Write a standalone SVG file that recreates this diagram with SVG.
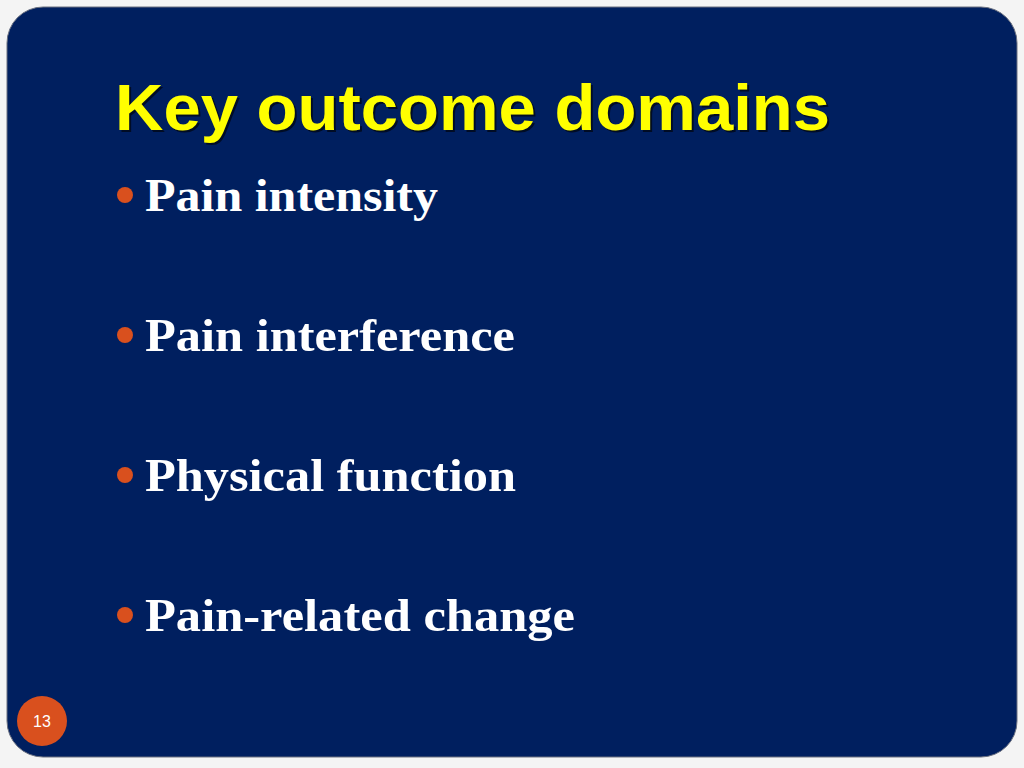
<svg xmlns="http://www.w3.org/2000/svg" width="1024" height="768" viewBox="0 0 1024 768">
<style>
.t{font-family:"Liberation Sans",Arial,sans-serif;font-size:64px;font-weight:bold}
.b{font-family:"Liberation Serif","Times New Roman",serif;font-size:46px;font-weight:bold;fill:#ffffff}
.d{fill:#d9501e}
</style>
<rect width="1024" height="768" fill="#f4f4f4"/>
<rect x="7" y="7" width="1010" height="750" rx="36" fill="#001f5f" stroke="#6a7080" stroke-width="1"/>
<g id="title"><text class="t" x="117" y="132" fill="#000" opacity="0.6" textLength="715" lengthAdjust="spacingAndGlyphs">Key outcome domains</text><text class="t" x="115" y="130" fill="#ffff00" textLength="715" lengthAdjust="spacingAndGlyphs">Key outcome domains</text></g>
<g id="b1"><circle class="d" cx="125" cy="195" r="8"/><text class="b" x="145" y="211" textLength="293" lengthAdjust="spacingAndGlyphs">Pain intensity</text></g>
<g id="b2"><circle class="d" cx="125" cy="335" r="8"/><text class="b" x="145" y="351" textLength="370" lengthAdjust="spacingAndGlyphs">Pain interference</text></g>
<g id="b3"><circle class="d" cx="125" cy="475" r="8"/><text class="b" x="145" y="491" textLength="371" lengthAdjust="spacingAndGlyphs">Physical function</text></g>
<g id="b4"><circle class="d" cx="125" cy="615" r="8"/><text class="b" x="145" y="631" textLength="430" lengthAdjust="spacingAndGlyphs">Pain-related change</text></g>
<g id="pg"><circle class="d" cx="42" cy="721" r="25"/><text x="42" y="727" text-anchor="middle" font-family="Liberation Sans,Arial,sans-serif" font-size="16" fill="#fff">13</text></g>
</svg>
